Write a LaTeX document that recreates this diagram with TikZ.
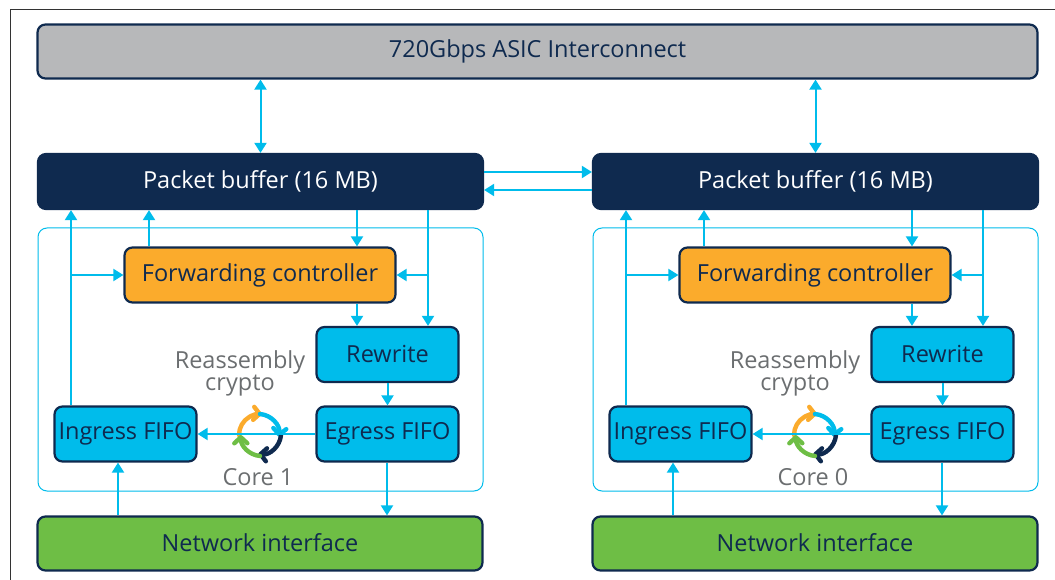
\documentclass[tikz,border=0pt]{standalone}
\usepackage{fontspec}
\setmainfont{Open Sans}
\usetikzlibrary{arrows.meta}
\definecolor{navy}{HTML}{0F2A4F}
\definecolor{sky}{HTML}{00BCEB}
\definecolor{amber}{HTML}{FBAB2C}
\definecolor{leaf}{HTML}{6EBE45}
\definecolor{steel}{HTML}{B7B8BA}
\definecolor{slate}{HTML}{6B6E70}
\tikzset{
	block/.style={draw=navy,line width=2.2pt,rounded corners=8pt,inner sep=0pt,text=navy,font=\fontsize{23.5}{26}\selectfont},
	asicbox/.style={block,fill=steel,minimum width=1000pt,minimum height=54pt},
	bufbox/.style={block,fill=navy,draw=navy,text=white,minimum width=445pt,minimum height=55pt},
	ctrlbox/.style={block,fill=amber,minimum width=271pt,minimum height=55pt},
	fifobox/.style={block,fill=sky,minimum width=142pt,minimum height=55pt},
	netbox/.style={block,fill=leaf,minimum width=445pt,minimum height=54pt},
	outline/.style={draw=sky,line width=1pt,rounded corners=9pt,minimum width=445pt,minimum height=263pt,inner sep=0pt},
	note/.style={inner sep=0pt,text=slate,align=center,font=\fontsize{23.5}{22}\selectfont},
	link/.style={draw=sky,line width=2pt,-{Triangle[width=12pt,length=10pt]}},
	biglink/.style={draw=sky,line width=2pt,{Triangle[width=12pt,length=10pt]}-{Triangle[width=12pt,length=10pt]}},
	spin/.style={line width=4.4pt,line cap=round,-{Straight Barb[width=13pt,length=6pt,line cap=round,round]}}
}
\begin{document}
\begin{tikzpicture}[x=1pt,y=-1pt]
	\useasboundingbox (0,0) rectangle (1055,580);
	\draw[line width=1pt,draw=black!80] (10,580) -- (10,10) -- (1055,10);
	\node[asicbox] (asic) at (537.5,51.5) {\raisebox{1pt}{720Gbps ASIC Interconnect}};

	\node[outline] (coreboxL) at (260.5,359.5) {};
	\node[bufbox] (bufL) at (260.5,181.5) {\raisebox{2pt}{Packet buffer (16 MB)}};
	\node[ctrlbox] (ctrlL) at (260,275) {\raisebox{1pt}{Forwarding controller}};
	\node[fifobox] (rewriteL) at (387.5,354.5) {\raisebox{2pt}{Rewrite}};
	\node[fifobox] (egressL) at (387.5,434) {Egress FIFO};
	\node[fifobox] (ingressL) at (125.5,434) {Ingress FIFO};
	\node[netbox] (netL) at (260,543.5) {\raisebox{2pt}{Network interface}};
	\node[note] (reasmL) at (240,373.5) {Reassembly\\crypto};
	\node[note] (coreL) at (258,477) {Core 1};
	\coordinate (spinL) at (260,435);
	\coordinate (upL) at (71,0);
	\coordinate (ctrlupL) at (149,0);
	\coordinate (downL) at (357,0);
	\coordinate (tapL) at (428,0);
	\coordinate (inL) at (118,0);
	\coordinate (outL) at (387,0);

	\node[outline] (coreboxR) at (815.5,359.5) {};
	\node[bufbox] (bufR) at (815.5,181.5) {\raisebox{2pt}{Packet buffer (16 MB)}};
	\node[ctrlbox] (ctrlR) at (815,275) {\raisebox{1pt}{Forwarding controller}};
	\node[fifobox] (rewriteR) at (942.5,354.5) {\raisebox{2pt}{Rewrite}};
	\node[fifobox] (egressR) at (942.5,434) {Egress FIFO};
	\node[fifobox] (ingressR) at (680.5,434) {Ingress FIFO};
	\node[netbox] (netR) at (815,543.5) {\raisebox{2pt}{Network interface}};
	\node[note] (reasmR) at (795,373.5) {Reassembly\\crypto};
	\node[note] (coreR) at (813,477) {Core 0};
	\coordinate (spinR) at (815,435);
	\coordinate (upR) at (626,0);
	\coordinate (ctrlupR) at (704,0);
	\coordinate (downR) at (912,0);
	\coordinate (tapR) at (983,0);
	\coordinate (inR) at (673,0);
	\coordinate (outR) at (942,0);

	\draw[biglink] (asic.south -| bufL.north) -- (bufL.north);
	\draw[biglink] (asic.south -| bufR.north) -- (bufR.north);
	\draw[link] ([yshift=9.5pt]bufL.east) -- ([yshift=9.5pt]bufR.west);
	\draw[link] ([yshift=-8.5pt]bufR.west) -- ([yshift=-8.5pt]bufL.east);

	\draw[spin,amber] ([xshift=-21pt]spinL) arc[start angle=180,end angle=85,radius=21pt];
	\draw[spin,sky] ([yshift=21pt]spinL) arc[start angle=85,end angle=-5,radius=21pt];
	\draw[spin,navy] ([xshift=21pt]spinL) arc[start angle=-5,end angle=-95,radius=21pt];
	\draw[spin,leaf] ([yshift=-21pt]spinL) arc[start angle=-95,end angle=-180,radius=21pt];
	\draw[link] (ingressL.north -| upL) -- (bufL.south -| upL);
	\draw[link] (ctrlL.west -| upL) -- (ctrlL.west);
	\draw[link] (ctrlL.north -| ctrlupL) -- (bufL.south -| ctrlupL);
	\draw[link] (bufL.south -| downL) -- (ctrlL.north -| downL);
	\draw[link] (bufL.south -| tapL) -- (rewriteL.north -| tapL);
	\draw[link] (ctrlL.east -| tapL) -- (ctrlL.east);
	\draw[link] (ctrlL.south -| downL) -- (rewriteL.north -| downL);
	\draw[link] (rewriteL) -- (egressL);
	\draw[link] (egressL.west) -- (ingressL.east);
	\draw[link] (netL.north -| inL) -- (ingressL.south -| inL);
	\draw[link] (egressL.south -| outL) -- (netL.north -| outL);

	\draw[spin,amber] ([xshift=-21pt]spinR) arc[start angle=180,end angle=85,radius=21pt];
	\draw[spin,sky] ([yshift=21pt]spinR) arc[start angle=85,end angle=-5,radius=21pt];
	\draw[spin,navy] ([xshift=21pt]spinR) arc[start angle=-5,end angle=-95,radius=21pt];
	\draw[spin,leaf] ([yshift=-21pt]spinR) arc[start angle=-95,end angle=-180,radius=21pt];
	\draw[link] (ingressR.north -| upR) -- (bufR.south -| upR);
	\draw[link] (ctrlR.west -| upR) -- (ctrlR.west);
	\draw[link] (ctrlR.north -| ctrlupR) -- (bufR.south -| ctrlupR);
	\draw[link] (bufR.south -| downR) -- (ctrlR.north -| downR);
	\draw[link] (bufR.south -| tapR) -- (rewriteR.north -| tapR);
	\draw[link] (ctrlR.east -| tapR) -- (ctrlR.east);
	\draw[link] (ctrlR.south -| downR) -- (rewriteR.north -| downR);
	\draw[link] (rewriteR) -- (egressR);
	\draw[link] (egressR.west) -- (ingressR.east);
	\draw[link] (netR.north -| inR) -- (ingressR.south -| inR);
	\draw[link] (egressR.south -| outR) -- (netR.north -| outR);
\end{tikzpicture}
\end{document}
